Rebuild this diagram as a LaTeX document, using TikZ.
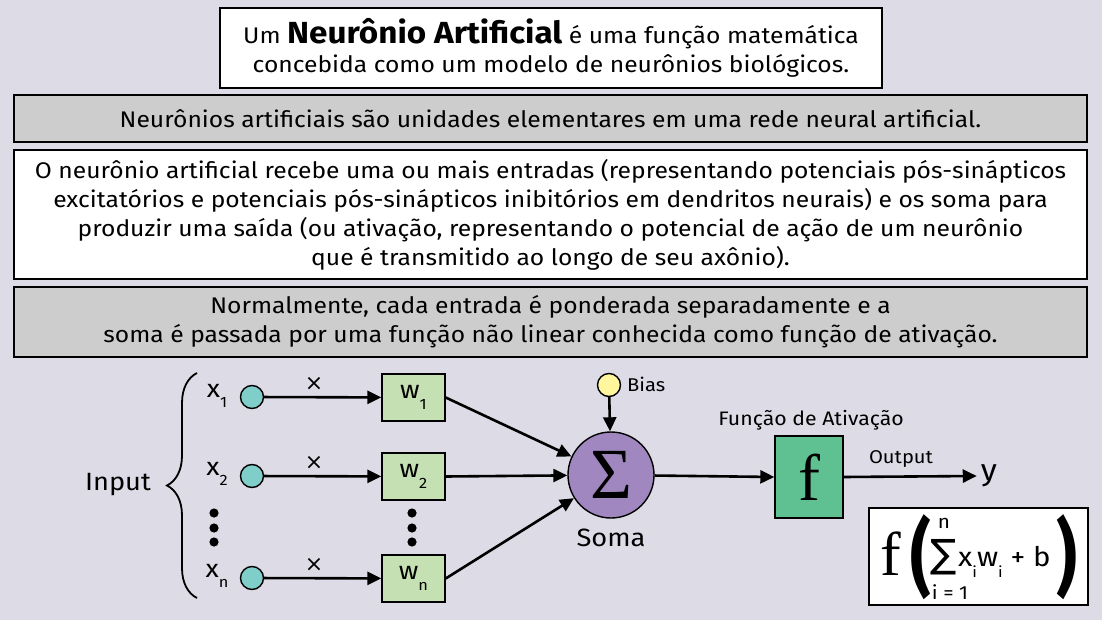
\documentclass[tikz,border=0pt]{standalone}
\usepackage{fontspec}
\newfontfamily\ub[FakeStretch=1.09]{Fira Sans}
\newfontfamily\dv{DejaVu Sans}
\newfontfamily\lserif{Liberation Serif}
\usetikzlibrary{arrows.meta,decorations.pathreplacing}
\definecolor{bg}{RGB}{221,219,229}
\definecolor{boxgray}{RGB}{205,205,205}
\definecolor{inpc}{RGB}{128,206,202}
\definecolor{wgreen}{RGB}{197,224,178}
\definecolor{sigc}{RGB}{160,135,192}
\definecolor{fgreen}{RGB}{95,192,146}
\definecolor{biasc}{RGB}{255,246,158}
\newcommand{\sbs}[1]{\raisebox{-0.42em}{\fontsize{15}{15}\selectfont #1}}
\begin{document}
\begin{tikzpicture}[x=1pt,y=-1pt,
  txtbox/.style={draw=black, line width=1.4pt, align=center, inner sep=0pt, font={\ub\fontsize{22.6}{29}\selectfont}},
  inp/.style={circle, draw=black, line width=1.4pt, fill=inpc, minimum size=23pt, inner sep=0pt},
  wbox/.style={draw=black, line width=1.4pt, fill=wgreen, minimum width=63pt, minimum height=47pt, inner sep=0pt, font={\ub\fontsize{25}{25}\selectfont}},
  lbl/.style={inner sep=0pt, font={\ub\fontsize{25}{25}\selectfont}},
  small/.style={inner sep=0pt, font={\ub\fontsize{19.5}{19.5}\selectfont}},
  times/.style={inner sep=0pt, font={\dv\fontsize{22}{22}\selectfont}},
  arr/.style={line width=2.6pt, -{Triangle[length=14pt,width=13pt]}},
  dot/.style={fill=black}
]
\fill[bg] (0,0) rectangle (1102,620);
\useasboundingbox (0,0) rectangle (1102,620);

% text boxes
\node[txtbox, fill=white, minimum width=662pt, minimum height=80pt] (head) at (551,48)
  {Um {\bfseries\fontsize{30.5}{29}\selectfont Neurônio Artificial} é uma função matemática\\concebida como um modelo de neurônios biológicos.};
\node[txtbox, fill=boxgray, minimum width=1073pt, minimum height=47pt] (b2) at (550.5,118.5)
  {Neurônios artificiais são unidades elementares em uma rede neural artificial.};
\node[txtbox, fill=white, minimum width=1073pt, minimum height=129pt] (b3) at (550.5,214.5)
  {O neurônio artificial recebe uma ou mais entradas (representando potenciais pós-sinápticos\\
   excitatórios e potenciais pós-sinápticos inibitórios em dendritos neurais) e os soma para\\
   produzir uma saída (ou ativação, representando o potencial de ação de um neurônio\\
   que é transmitido ao longo de seu axônio).};
\node[txtbox, fill=boxgray, minimum width=1073pt, minimum height=70pt] (b4) at (550.5,322)
  {Normalmente, cada entrada é ponderada separadamente e a\\
   soma é passada por uma função não linear conhecida como função de ativação.};

% input brace
\draw[line width=1.8pt, decorate, decoration={brace, amplitude=30pt}] (197,598) -- (197,373);
\node[lbl] (input) at (118,485) {Input};

% inputs
\node[lbl] (x1) at (217,396) {x\sbs{1}};
\node[lbl] (x2) at (217,474) {x\sbs{2}};
\node[lbl] (xn) at (217,576) {x\sbs{n}};
\node[inp] (c1) at (252,397) {};
\node[inp] (c2) at (252,476) {};
\node[inp] (cn) at (252,578) {};
\node[wbox] (w1) at (413.5,397.5) {w\sbs{1}};
\node[wbox] (w2) at (413.5,476.5) {w\sbs{2}};
\node[wbox] (wn) at (413.5,578.5) {w\sbs{n}};
\node[times] (m1) at (314,384) {×};
\node[times] (m2) at (314,463) {×};
\node[times] (mn) at (314,565) {×};
\draw[arr] (c1) -- (w1);
\draw[arr] (c2) -- (w2);
\draw[arr] (cn) -- (wn);

\foreach \yy in {513,528,542} {
  \fill[dot] (214,\yy) circle (4.6pt);
  \fill[dot] (412,\yy) circle (4.6pt);
}

% sum node
\node[circle, draw=black, line width=1.4pt, fill=sigc, minimum size=86pt, inner sep=0pt] (sig) at (611,475)
  {\lserif\fontsize{72}{72}\selectfont Σ};
\node[lbl] (soma) at (611,538) {Soma};
\node[circle, draw=black, line width=1.4pt, fill=biasc, minimum size=23pt, inner sep=0pt] (bias) at (609,385) {};
\node[small, anchor=west, font={\ub\fontsize{18.5}{18.5}\selectfont}] (biasl) at (627,384) {Bias};
\draw[arr] (w1.east) -- (sig);
\draw[arr] (w2.east) -- (sig);
\draw[arr] (wn.east) -- (sig);
\draw[arr] (bias) -- (sig);

% activation
\node[draw=black, line width=1.4pt, fill=fgreen, minimum width=68pt, minimum height=82pt, inner sep=0pt] (f) at (809,477)
  {\lserif\fontsize{66}{66}\selectfont f};
\node[small] (fa) at (811,420) {Função de Ativação};
\draw[arr] (sig) -- (f.west);
\node[lbl, font={\ub\fontsize{30}{30}\selectfont}] (y) at (989,476) {y};
\node[small, font={\ub\fontsize{18.5}{18.5}\selectfont}] (out) at (901,459) {Output};
\draw[arr] (f.east) -- ([xshift=-4pt]y.west);

% formula
\node[draw=black, line width=1.4pt, fill=white, minimum width=219pt, minimum height=97pt, inner sep=0pt] (fbox) at (978.5,556.5) {};
\node[inner sep=0pt] (ff) at (891,554) {\lserif\fontsize{62}{62}\selectfont f};
\node[inner sep=0pt] (lp) at (921,557) {\ub\bfseries\fontsize{62}{62}\selectfont\scalebox{0.95}[1.35]{(}};
\node[inner sep=0pt] (sm) at (944,557) {\dv\fontsize{39}{39}\selectfont ∑};
\node[inner sep=0pt, font={\ub\fontsize{19}{19}\selectfont}] (sn) at (944,523) {n};
\node[inner sep=0pt, font={\ub\fontsize{19}{19}\selectfont}] (si) at (950,592) {i = 1};
\node[inner sep=0pt, anchor=base west, font={\ub\fontsize{27}{27}\selectfont}] (xw) at (958,566) {x\sbs{i}w\sbs{i} + b};
\node[inner sep=0pt] (rp) at (1067,557) {\ub\bfseries\fontsize{62}{62}\selectfont\scalebox{0.95}[1.35]{)}};
\end{tikzpicture}
\end{document}
